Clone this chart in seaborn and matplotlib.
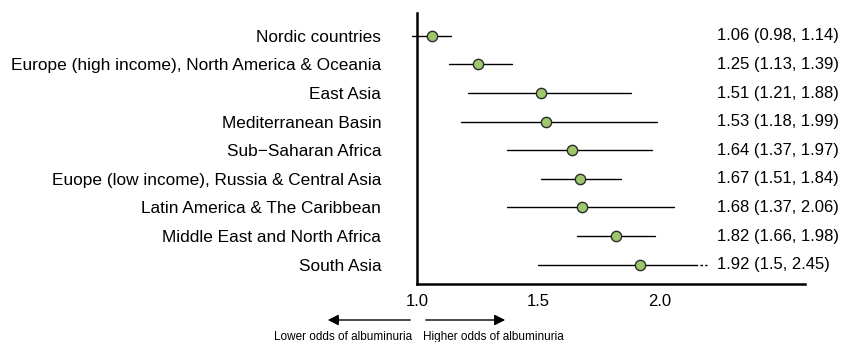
import pandas as pd
import matplotlib.pyplot as plt
import seaborn as sns

regions = [
    "Nordic countries",
    "Europe (high income), North America & Oceania",
    "East Asia",
    "Mediterranean Basin",
    "Sub\u2212Saharan Africa",
    "Euope (low income), Russia & Central Asia",
    "Latin America & The Caribbean",
    "Middle East and North Africa",
    "South Asia",
]
odds = [1.06, 1.25, 1.51, 1.53, 1.64, 1.67, 1.68, 1.82, 1.92]
lower = [0.98, 1.13, 1.21, 1.18, 1.37, 1.51, 1.37, 1.66, 1.5]
upper = [1.14, 1.39, 1.88, 1.99, 1.97, 1.84, 2.06, 1.98, 2.45]
labels = ["1.06 (0.98, 1.14)", "1.25 (1.13, 1.39)", "1.51 (1.21, 1.88)",
          "1.53 (1.18, 1.99)", "1.64 (1.37, 1.97)", "1.67 (1.51, 1.84)",
          "1.68 (1.37, 2.06)", "1.82 (1.66, 1.98)", "1.92 (1.5, 2.45)"]

x_cut = 2.145      # long CI is truncated here, dashed beyond
x_dash_end = 2.195
x_text = 2.235

df = pd.DataFrame({"region": regions, "odds": odds, "lower": lower, "upper": upper})
df["row"] = range(len(df))

sns.set_theme(style="white")
plt.rcParams["font.family"] = ["Liberation Sans", "DejaVu Sans"]
plt.rcParams["text.color"] = "black"
plt.rcParams["xtick.color"] = "black"
plt.rcParams["ytick.color"] = "black"

fig = plt.figure(figsize=(8.43, 3.42), dpi=100)
ax = fig.add_axes([0.495, 0.170, 0.46, 0.792])

# CI whiskers
for _, r in df.iterrows():
    hi = min(r["upper"], x_cut)
    ax.plot([r["lower"], hi], [r["row"], r["row"]], color="black", lw=1.0,
            clip_on=False, zorder=2)
    if r["upper"] > x_cut:
        ax.plot([x_cut, x_dash_end], [r["row"], r["row"]], color="black", lw=1.0,
                ls=(0, (2, 1.5)), clip_on=False, zorder=2)

sns.scatterplot(data=df, x="odds", y="row", ax=ax, s=55, color="#9cc76c",
                edgecolor="#2b2b2b", linewidth=1.0, zorder=3, clip_on=False, legend=False)

for _, r in df.iterrows():
    ax.text(x_text, r["row"], labels[r["row"]], fontsize=12, va="center", ha="left",
            clip_on=False)

ax.set_xlim(1.0, 2.6)
ax.set_ylim(8.67, -0.8)
ax.set_yticks(df["row"])
ax.set_yticklabels(regions, fontsize=12.4)
ax.tick_params(axis="y", length=0, pad=26)
ax.set_xticks([1.0, 1.5, 2.0, 2.5])
ax.set_xticklabels(["1.0", "1.5", "2.0", ""], fontsize=12)
ax.tick_params(axis="x", direction="inout", length=9, width=1.8, pad=3)
ax.set_xlabel("")
ax.set_ylabel("")
for side in ["top", "right"]:
    ax.spines[side].set_visible(False)
for side in ["left", "bottom"]:
    ax.spines[side].set_color("black")
    ax.spines[side].set_linewidth(1.8)

# direction arrows below the axis
ax.annotate("", xy=(325 / 843, 1 - 320 / 342), xytext=(413 / 843, 1 - 320 / 342),
            xycoords="figure fraction",
            arrowprops=dict(arrowstyle="-|>", color="black", lw=1.0, mutation_scale=16))
ax.annotate("", xy=(508 / 843, 1 - 320 / 342), xytext=(423 / 843, 1 - 320 / 342),
            xycoords="figure fraction",
            arrowprops=dict(arrowstyle="-|>", color="black", lw=1.0, mutation_scale=16))
fig.text(412 / 843, 1 - 337 / 342, "Lower odds of albuminuria", fontsize=8.5,
         ha="right", va="center")
fig.text(423 / 843, 1 - 337 / 342, "Higher odds of albuminuria", fontsize=8.5,
         ha="left", va="center")

fig.savefig("out.png", dpi=100)
